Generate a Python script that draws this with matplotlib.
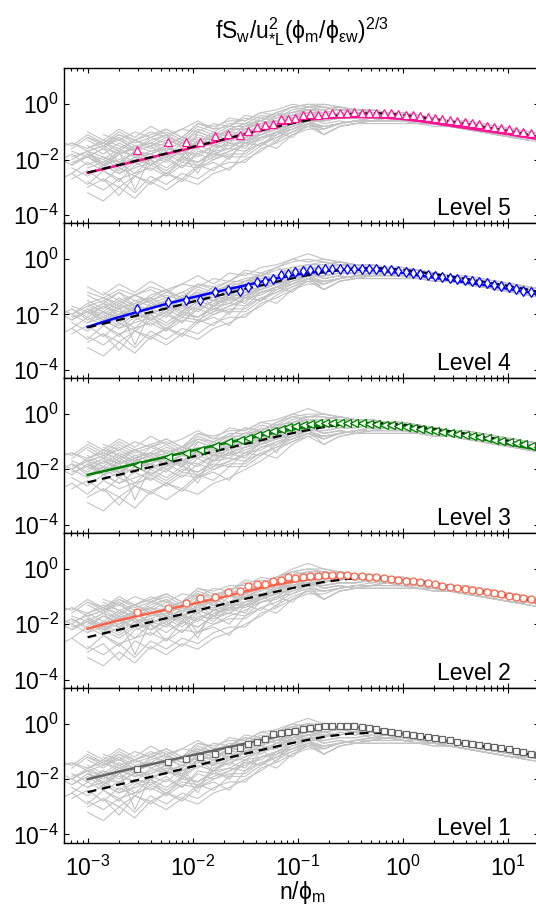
import numpy as np
import matplotlib.pyplot as plt
from matplotlib.ticker import LogLocator, NullFormatter, NullLocator, FixedLocator

plt.rcParams['font.family'] = ['Liberation Sans', 'DejaVu Sans']
plt.rcParams['mathtext.fontset'] = 'custom'
plt.rcParams['mathtext.rm'] = 'Liberation Sans'
plt.rcParams['mathtext.it'] = 'Liberation Sans:italic'
plt.rcParams['mathtext.bf'] = 'Liberation Sans:bold'

# --- gray individual spectra: log10(n/phi_m) grid, 10*log10(spectrum) ('.' = no data)
gray_logx = [-3.3, -3.15, -3.0, -2.85, -2.7, -2.55, -2.4, -2.25, -2.1, -1.95, -1.8,
             -1.65, -1.5, -1.35, -1.2, -1.05, -0.9, -0.75, -0.6, -0.45, -0.3, -0.15,
             0.0, 0.15, 0.3, 0.45, 0.6, 0.75, 0.9, 1.05, 1.2, 1.35]
# high-frequency ends (x >= 10^-0.75)
gray_tails = {
    'A': "-3 -2 -3 -3 -3 -4 -4 -5 -6 -7 -8 -9 -10 -10 -11",
    'B': "-6 -5 -5 -4 -4 -5 -6 -7 -7 -8 -9 -10 -11 -12 -13",
    'C': "-2 -1 -2 -2 -3 -3 -4 -5 -6 -6 -7 -8 -9 -10 -11",
    'D': "-8 -7 -6 -6 -6 -6 -7 -7 -8 -9 -10 -11 -12 -13 .",
    'E': "-1 -2 -2 -3 -3 -4 -4 -5 -6 -7 -8 -9 -10 -11 -12",
    'F': "-9 -7 -6 -5 -5 -5 -6 -6 -7 -8 -9 -10 -11 . .",
    'G': "-4 -4 -3 -3 -4 -4 -5 -6 -7 -8 -8 -9 -10 -11 .",
    'H': "-11 -8 -7 -6 -5 -6 -6 -7 -8 -9 -10 -11 -12 -12 -13",
    'I': "0 -1 -2 -2 -3 -3 -4 -5 -6 -7 -8 -9 -9 -10 -11",
    'J': "-5 -3 -4 -3 -4 -4 -5 -6 -7 -7 -8 -9 -10 -11 -12",
    'K': "-7 -6 -7 -7 -7 -7 -7 -8 -8 -9 -10 -11 -12 -13 -14",
    'L': "-3 -4 -3 -5 -4 -5 -5 -6 -6 -7 -8 -9 -10 -11 -12",
}
# low-frequency parts (x <= 10^-0.9) and the end each spectrum continues with
gray_pool = [
    (". . -10 -13 -9 -12 -8 -11 -9 -6 -9 -5 -6 -3 -2 0 -1", 'I'),
    (". -16 -12 -15 -11 -14 -12 -10 -13 -8 -10 -7 -7 -4 -5 -2 -1", 'E'),
    (". . . -14 -16 -13 -15 -12 -14 -10 -12 -9 -7 -6 -4 -3 -2", 'C'),
    ("-17 -20 -16 -19 -15 -18 -14 -17 -15 -12 -15 -10 -10 -7 -6 -5 -3", 'A'),
    (". . -19 -16 -21 -17 -15 -19 -14 -16 -12 -14 -9 -10 -6 -7 -4", 'J'),
    (". -22 -19 -23 -18 -21 -20 -17 -20 -15 -17 -13 -13 -10 -8 -6 -5", 'B'),
    (". . . -24 -21 -25 -20 -23 -19 -21 -17 -16 -17 -12 -10 -9 -6", 'H'),
    (". -27 -24 -28 -23 -26 -22 -25 -21 -22 -19 -17 -14 -15 -11 -9 -7", 'F'),
    (". . -30 -27 -33 -26 -29 -25 -28 -23 -21 -24 -17 -14 -16 -11 -8", 'D'),
    ("-13 -15 -11 -14 -10 -13 -11 -9 -12 -7 -9 -8 -5 -6 -3 -1 -2", 'L'),
    (". . -16 -14 -17 -13 -16 -14 -12 -14 -10 -12 -8 -6 -7 -4 -3", 'G'),
    (". -18 -21 -17 -20 -16 -19 -18 -15 -16 -13 -15 -10 -9 -8 -5 -4", 'K'),
    (". . . -20 -23 -19 -22 -18 -21 -16 -19 -14 -14 -11 -9 -7 -6", 'B'),
    (". -25 -21 -24 -28 -22 -20 -26 -19 -21 -17 -20 -13 -15 -10 -12 -7", 'H'),
    (". . -13 -16 -12 -15 -14 -11 -14 -9 -11 -8 -8 -5 -6 -3 -2", 'C'),
    (". -20 -17 -19 -22 -17 -18 -15 -19 -13 -15 -11 -11 -8 -9 -5 -4", 'G'),
    (". . -18 -22 -17 -31 -19 -21 -16 -23 -16 -14 -16 -10 -9 -7 -5", 'J'),
    (". . . -11 -13 -10 -12 -9 -12 -7 -8 -6 -6 -3 -4 -1 0", 'I'),
    ("-28 -25 -29 -24 -27 -25 -23 -26 -22 -23 -20 -18 -18 -14 -12 -9 -7", 'D'),
    (". -17 -19 -16 -18 -15 -17 -16 -14 -15 -11 -13 -9 -7 -8 -4 -3", 'A'),
    (". . -20 -17 -19 -21 -16 -18 -17 -13 -17 -12 -10 -11 -7 -6 -4", 'L'),
    (". . . -15 -12 -17 -13 -11 -16 -11 -13 -9 -9 -6 -3 -5 -2", 'E'),
    (". -23 -26 -22 -25 -23 -21 -24 -20 -21 -18 -19 -14 -13 -10 -8 -6", 'F'),
    (". . -32 -35 -30 -34 -28 -31 -27 -29 -25 -23 -20 -17 -13 -10 -8", 'H'),
    ("-16 -14 -17 -15 -13 -16 -14 -15 -12 -13 -12 -9 -9 -7 -5 -4 -2", 'C'),
    (". . -18 -20 -16 -19 -17 -15 -18 -13 -14 -12 -10 -8 -6 -6 -4", 'J'),
    (". -21 -19 -22 -20 -18 -22 -19 -17 -19 -15 -16 -12 -11 -9 -7 -5", 'K'),
    (". . . -12 -15 -13 -11 -14 -12 -9 -10 -8 -5 -6 -3 0 2", 'I'),
    (". . -23 -21 -24 -20 -22 -19 -23 -17 -18 -16 -13 -12 -10 -7 -6", 'B'),
    ("-19 -22 -18 -21 -17 -19 -18 -16 -17 -14 -15 -13 -10 -9 -7 -6 -4", 'A'),
    (". -14 -16 -13 -15 -17 -12 -14 -19 -10 -12 -9 -7 -8 -4 -3 -1", 'E'),
    (". . . -27 -30 -26 -28 -25 -27 -22 -24 -19 -19 -15 -12 -10 -7", 'F'),
    (". . -17 -15 -18 -16 -14 -17 -13 -15 -11 -10 -11 -7 -6 -5 -3", 'L'),
    (". -20 -23 -19 -21 -18 -20 -17 -19 -15 -17 -14 -12 -10 -8 -7 -5", 'K'),
    (". . -12 -14 -11 -13 -10 -12 -9 -10 -7 -8 -4 -5 -3 -1 0", 'E'),
    (". . . -22 -25 -21 -24 -20 -23 -18 -20 -17 -15 -12 -11 -8 -6", 'D'),
    (". -19 -17 -22 -18 -16 -20 -16 -18 -25 -14 -12 -12 -9 -14 -5 -4", 'G'),
    (". . -15 -18 -14 -17 -15 -13 -15 -12 -13 -10 -8 -7 -6 -4 -3", 'A'),
    ("-21 -18 -22 -19 -21 -20 -18 -20 -17 -18 -15 -15 -13 -11 -9 -8 -6", 'B'),
    (". . -28 -31 -27 -32 -26 -29 -25 -27 -23 -21 -21 -16 -14 -11 -9", 'F'),
]
# spectra of the pool left out of each panel (top to bottom)
panel_skip = [
    [3, 11, 20, 27, 33],
    [1, 9, 17, 24, 30, 36],
    [5, 13, 21, 28, 34, 39],
    [0, 7, 15, 22, 31, 37],
    [4, 12, 19, 26, 32, 38],
]

# --- fitted / reference curves (log10 values)
model_logx = [-3.0, -2.75, -2.5, -2.25, -2.0, -1.75, -1.5, -1.25, -1.0, -0.75, -0.5,
              -0.25, 0.0, 0.25, 0.5, 0.75, 1.0, 1.3]
dashed_logy = [-2.47, -2.24, -2.01, -1.78, -1.54, -1.31, -1.08, -0.86, -0.65, -0.47, -0.35,
               -0.32, -0.38, -0.51, -0.65, -0.80, -0.96, -1.18]
level5_logy = [-2.48, -2.25, -2.02, -1.79, -1.57, -1.33, -1.08, -0.82, -0.60, -0.50, -0.46,
               -0.47, -0.53, -0.66, -0.80, -0.94, -1.08, -1.27]
level4_logy = [-2.45, -2.15, -1.88, -1.62, -1.38, -1.16, -0.95, -0.73, -0.55, -0.43, -0.38,
               -0.40, -0.50, -0.64, -0.78, -0.92, -1.07, -1.27]
level3_logy = [-2.20, -1.98, -1.76, -1.54, -1.32, -1.10, -0.90, -0.70, -0.52, -0.40, -0.34,
               -0.34, -0.42, -0.57, -0.73, -0.90, -1.08, -1.30]
level2_logy = [-2.16, -1.90, -1.68, -1.47, -1.26, -1.05, -0.82, -0.60, -0.42, -0.31, -0.27,
               -0.30, -0.40, -0.54, -0.69, -0.84, -1.00, -1.20]
level1_logy = [-2.00, -1.77, -1.55, -1.34, -1.13, -0.92, -0.71, -0.50, -0.30, -0.15, -0.10,
               -0.18, -0.36, -0.52, -0.67, -0.82, -0.96, -1.16]

# --- bin-averaged spectra (symbols)
marker_logx = [-2.53, -2.23, -2.06, -1.93, -1.79, -1.66, -1.55, -1.47, -1.39, -1.31, -1.23,
               -1.16, -1.09, -1.02, -0.95, -0.88, -0.81, -0.74, -0.67, -0.60, -0.53, -0.46,
               -0.39, -0.32, -0.25, -0.18, -0.11, -0.04, 0.03, 0.10, 0.17, 0.24, 0.31, 0.38,
               0.45, 0.52, 0.59, 0.66, 0.73, 0.80, 0.87, 0.94, 1.01, 1.08, 1.15, 1.22, 1.29]
level5_sym = [-1.66, -1.36, -1.36, -1.36, -1.16, -1.06, -1.12, -0.98, -0.82, -0.74, -0.72,
              -0.55, -0.55, -0.48, -0.40, -0.36, -0.38, -0.35, -0.33, -0.30, -0.30, -0.29,
              -0.30, -0.30, -0.31, -0.32, -0.33, -0.35, -0.37, -0.40, -0.43, -0.46, -0.50,
              -0.53, -0.57, -0.61, -0.65, -0.69, -0.73, -0.77, -0.81, -0.85, -0.90, -0.95,
              -1.00, -1.05, -1.10]
level4_sym = [-1.80, -1.54, -1.46, -1.46, -1.18, -1.12, -1.16, -1.02, -0.82, -0.80, -0.70,
              -0.58, -0.52, -0.47, -0.42, -0.40, -0.38, -0.36, -0.35, -0.35, -0.34, -0.34,
              -0.35, -0.36, -0.37, -0.38, -0.40, -0.43, -0.46, -0.49, -0.52, -0.56, -0.60,
              -0.63, -0.67, -0.71, -0.75, -0.79, -0.83, -0.87, -0.92, -0.97, -1.02, -1.08,
              -1.14, -1.20, -1.26]
level3_sym = [-1.85, -1.55, -1.40, -1.30, -1.15, -1.02, -0.92, -0.85, -0.76, -0.68, -0.60,
              -0.54, -0.48, -0.43, -0.39, -0.36, -0.34, -0.33, -0.32, -0.32, -0.32, -0.33,
              -0.34, -0.35, -0.37, -0.39, -0.41, -0.44, -0.47, -0.50, -0.53, -0.57, -0.61,
              -0.64, -0.68, -0.72, -0.76, -0.80, -0.84, -0.88, -0.92, -0.96, -1.00, -1.05,
              -1.10, -1.15, -1.20]
level2_sym = [-1.55, -1.40, -1.24, -1.05, -1.00, -0.85, -0.78, -0.62, -0.55, -0.56, -0.44,
              -0.40, -0.30, -0.33, -0.30, -0.26, -0.24, -0.23, -0.22, -0.22, -0.23, -0.24,
              -0.26, -0.28, -0.30, -0.33, -0.36, -0.39, -0.42, -0.45, -0.48, -0.52, -0.56,
              -0.60, -0.64, -0.68, -0.72, -0.76, -0.80, -0.84, -0.88, -0.92, -0.96, -1.00,
              -1.05, -1.10, -1.15]
level1_sym = [-1.65, -1.38, -1.28, -1.18, -1.08, -0.96, -0.86, -0.72, -0.66, -0.56, -0.38,
              -0.33, -0.28, -0.24, -0.20, -0.14, -0.10, -0.08, -0.06, -0.06, -0.06, -0.08,
              -0.12, -0.16, -0.20, -0.24, -0.28, -0.32, -0.36, -0.40, -0.44, -0.48, -0.52,
              -0.56, -0.60, -0.64, -0.68, -0.72, -0.76, -0.80, -0.84, -0.88, -0.92, -0.97,
              -1.02, -1.08, -1.14]

levels = ['Level 5', 'Level 4', 'Level 3', 'Level 2', 'Level 1']
line_colors = ['#ff1493', '#0000ff', '#008000', '#ff6347', '#666666']
sym_shapes = ['^', 'd', '<', 'o', 's']
sym_sizes = [5.5, 5.5, 5.5, 5, 4.5]
model_curves = [level5_logy, level4_logy, level3_logy, level2_logy, level1_logy]
sym_curves = [level5_sym, level4_sym, level3_sym, level2_sym, level1_sym]


def parse(s):
    return np.array([np.nan if t == '.' else float(t) / 10 for t in s.split()])


W, H = 536, 909
fig = plt.figure(figsize=(W / 100, H / 100), dpi=100)
left, right = 64.3, 539.2
top0, ph = 68.3, 154.9
gx = 10 ** np.array(gray_logx)
mx = 10 ** np.array(model_logx)
sx = 10 ** np.array(marker_logx)

for i in range(5):
    bottom = H - (top0 + ph * (i + 1))
    ax = fig.add_axes([left / W, bottom / H, (right - left) / W, ph / H])

    for k, (head, tail) in enumerate(gray_pool):
        if k in panel_skip[i]:
            continue
        gy = parse(head + ' ' + gray_tails[tail])
        ax.plot(gx, 10 ** gy, color='#c3c3c3', lw=0.8, zorder=1)

    ax.plot(mx, 10 ** np.array(model_curves[i]), color=line_colors[i], lw=1.8, zorder=2)
    ax.plot(mx, 10 ** np.array(dashed_logy), color='k', lw=1.6, ls=(0, (4, 2.6)), zorder=3)
    ax.plot(sx, 10 ** np.array(sym_curves[i]), ls='none', marker=sym_shapes[i],
            ms=sym_sizes[i], mfc='white', mec=line_colors[i], mew=0.9, zorder=4)

    ax.set_xscale('log')
    ax.set_yscale('log')
    ax.set_xlim(6e-4, 20)
    ax.set_ylim(5e-5, 20)
    ax.yaxis.set_major_locator(FixedLocator([1e-4, 1e-2, 1e0]))
    ax.yaxis.set_minor_locator(NullLocator())
    ax.xaxis.set_major_locator(LogLocator(base=10, numticks=10))
    ax.xaxis.set_minor_locator(LogLocator(base=10, subs=np.arange(2, 10), numticks=20))
    ax.xaxis.set_minor_formatter(NullFormatter())
    ax.tick_params(which='both', direction='in', top=True, right=True, width=0.8,
                   labelsize=16.5)
    ax.tick_params(which='major', length=3.5)
    ax.tick_params(which='minor', length=2)
    ax.tick_params(axis='y', pad=4)
    ax.tick_params(axis='x', pad=9, labelbottom=(i == 4))
    for sp in ax.spines.values():
        sp.set_linewidth(1.0)
    ax.text(0.94, 0.05, levels[i], transform=ax.transAxes, ha='right', va='baseline',
            fontsize=16.5)

xc = (left + right) / 2 / W
fig.text(xc, 1 - 40 / H, r'$\mathrm{fS_w/u^2_{*L}(\phi_m/\phi_{\epsilon w})^{2/3}}$',
         ha='center', va='baseline', fontsize=16.5)
fig.text(xc, 1 - 899 / H, r'$\mathrm{n/\phi_m}$', ha='center', va='baseline',
         fontsize=16.5)

fig.savefig('out.png', dpi=100)
